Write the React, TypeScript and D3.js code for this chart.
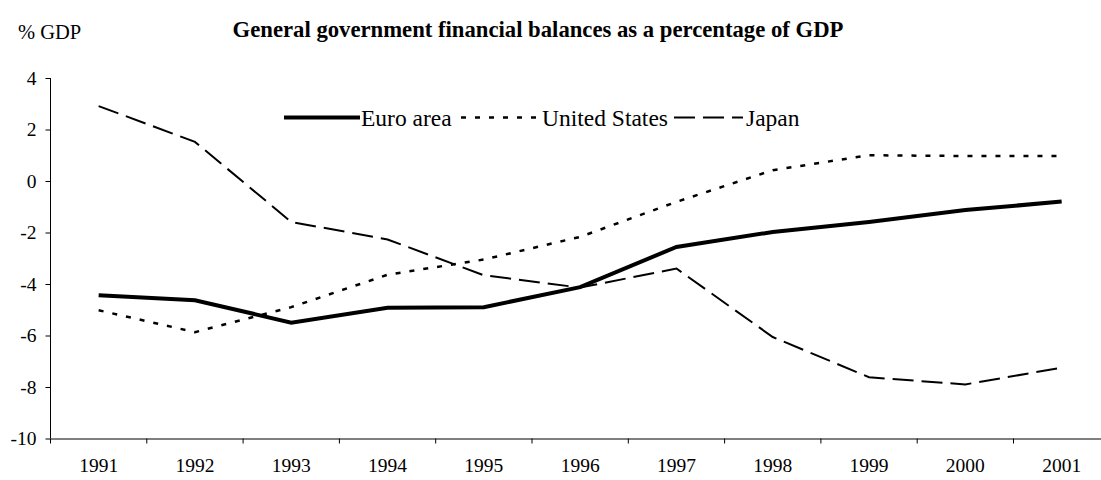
import React, { useEffect, useRef } from 'react';
import * as d3 from 'd3';

const years = ['1991', '1992', '1993', '1994', '1995', '1996', '1997', '1998', '1999', '2000', '2001'];
const euroArea = [-4.44, -4.63, -5.5, -4.92, -4.9, -4.12, -2.56, -1.98, -1.59, -1.13, -0.8];
const unitedStates = [-5.02, -5.87, -4.9, -3.64, -3.05, -2.17, -0.81, 0.42, 1.0, 0.97, 0.97];
const japan = [2.91, 1.52, -1.59, -2.27, -3.66, -4.14, -3.4, -6.06, -7.62, -7.9, -7.25];
const yTicks = [4, 2, 0, -2, -4, -6, -8, -10];

const seriesList = [
  { name: 'Euro area', values: euroArea, width: 4, dash: null },
  { name: 'United States', values: unitedStates, width: 2.5, dash: '5,9' },
  { name: 'Japan', values: japan, width: 2, dash: '21,8' },
];

const FONT = '"Liberation Serif", "Times New Roman", serif';

export default function App() {
  const svgRef = useRef<SVGSVGElement>(null);

  useEffect(() => {
    if (!svgRef.current) return;
    const svg = d3.select(svgRef.current);
    svg.selectAll('*').remove();

    const left = 50.5;
    const bandW = 96.3;
    const x = d3.scaleBand().domain(years).range([left, left + bandW * years.length]);
    const y = d3.scaleLinear().domain([-10, 4]).range([438.5, 78]);

    // title
    svg.append('text')
      .attr('x', 538).attr('y', 37)
      .attr('text-anchor', 'middle')
      .attr('font-family', FONT).attr('font-weight', 'bold').attr('font-size', 22.7)
      .text('General government financial balances as a percentage of GDP');

    svg.append('text')
      .attr('x', 18).attr('y', 39)
      .attr('font-family', FONT).attr('font-size', 20.5)
      .text('% GDP');

    // y axis
    const yAxis = svg.append('g')
      .attr('transform', `translate(${left},0)`)
      .call(d3.axisLeft(y).tickValues(yTicks).tickSize(5).tickPadding(9).tickFormat(d => `${d}`));
    yAxis.select('.domain').attr('stroke', '#000').attr('d', `M-0,${y(4)}V${y(-10)}`);
    yAxis.selectAll('text').attr('font-family', FONT).attr('font-size', 19.5).attr('fill', '#000');

    // x axis, ticks sit on band edges
    const xAxis = svg.append('g')
      .attr('transform', `translate(0,${y(-10)})`)
      .call(d3.axisBottom(x).tickSize(0).tickPadding(20));
    xAxis.select('.domain').attr('stroke', '#000');
    xAxis.selectAll('text').attr('font-family', FONT).attr('font-size', 19.5).attr('fill', '#000');
    xAxis.selectAll('.edge')
      .data(years)
      .enter()
      .append('line')
      .attr('x1', d => x(d) || 0).attr('x2', d => x(d) || 0)
      .attr('y1', 0).attr('y2', 5)
      .attr('stroke', '#000');

    // lines
    const line = d3.line<number>()
      .x((_, i) => (x(years[i]) || 0) + x.bandwidth() / 2)
      .y(d => y(d));

    seriesList.forEach(s => {
      svg.append('path')
        .attr('d', line(s.values))
        .attr('fill', 'none')
        .attr('stroke', '#000')
        .attr('stroke-width', s.width)
        .attr('stroke-dasharray', s.dash)
        .attr('stroke-linejoin', 'miter');
    });

    // legend
    const legendItems = [
      { s: seriesList[0], x1: 284, x2: 360, tx: 361 },
      { s: seriesList[1], x1: 461, x2: 540, tx: 542 },
      { s: seriesList[2], x1: 674, x2: 743, tx: 746 },
    ];
    const ly = 117.5;
    legendItems.forEach(it => {
      svg.append('line')
        .attr('x1', it.x1).attr('x2', it.x2)
        .attr('y1', ly).attr('y2', ly)
        .attr('stroke', '#000')
        .attr('stroke-width', it.s.width)
        .attr('stroke-dasharray', it.s.dash);
      svg.append('text')
        .attr('x', it.tx).attr('y', ly + 8)
        .attr('font-family', FONT).attr('font-size', 23.5)
        .text(it.s.name);
    });
  }, []);

  return (
    <svg
      ref={svgRef}
      width={1101}
      height={480}
      style={{ position: 'absolute', left: 0, top: 0, background: '#fff' }}
    />
  );
}
